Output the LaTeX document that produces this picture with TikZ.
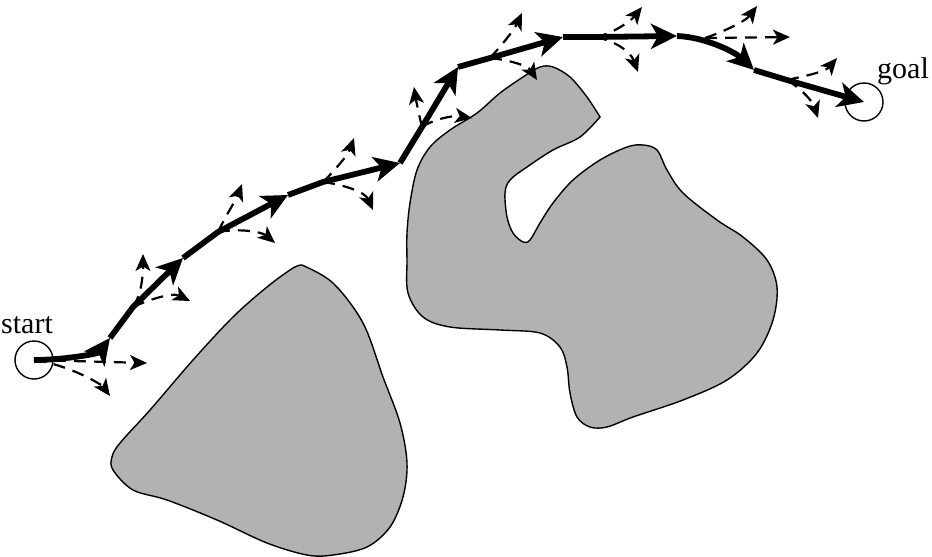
\documentclass[tikz,border=0pt]{standalone}
\usepackage{fontspec}
\setmainfont{Liberation Serif}
\usetikzlibrary{arrows.meta}
\definecolor{obstgray}{gray}{0.70}
\tikzset{
  obstacle/.style={fill=obstgray, draw=black, line width=1.4pt},
  pathseg/.style={line width=5.8pt, line join=round, -{Stealth[length=26pt,width=25pt,inset=7pt]}},
  branch/.style={line width=2.2pt, dash pattern=on 12pt off 8pt, -{Stealth[length=17pt,width=15pt,inset=4.5pt]}},
  endcircle/.style={circle, draw, line width=1.4pt, minimum size=38pt, inner sep=0pt},
  lbl/.style={font=\fontsize{30}{36}\selectfont, inner sep=0pt, anchor=base west},
}
\begin{document}
\begin{tikzpicture}[x=1pt, y=-1pt]
\useasboundingbox (0,0) rectangle (932,557);

% obstacles
\draw[obstacle] plot[smooth, tension=0.55] coordinates {
 (302,265) (333,283) (363,323) (383,377) (400,423) (407,463) (403,497) (390,527)
 (367,547) (333,555) (307,555) (267,543) (217,520) (167,500) (133,490) (113,470)
 (112,457) (120,443) (150,410) (193,360) (233,317) (267,287) (293,268) (302,265)} -- cycle;
\draw[obstacle] plot[smooth, tension=0.55] coordinates {
 (600,117) (587,97) (570,77) (553,67) (540,67) (523,77) (500,93) (477,113) (450,130)
 (430,147) (417,170) (410,203) (407,233) (407,260) (408,293) (423,317) (450,327)
 (500,330) (540,333) (560,347) (567,367) (570,393) (577,417) (590,427) (607,427)
 (633,417) (683,400) (727,380) (757,353) (773,320) (777,287) (767,260) (743,237)
 (717,220) (683,193) (667,170) (657,150) (643,145) (627,147) (600,160) (573,180)
 (553,203) (540,223) (530,240) (523,242) (513,233) (507,217) (505,193) (510,180)
 (527,167) (553,150) (580,137) (600,117)} -- cycle;

% start / goal
\node[endcircle] (start) at (34,360) {};
\node[endcircle] (goal) at (864,102) {};
\node[lbl] (startlbl) at (1,333) {start};
\node[lbl] (goallbl) at (877,78) {goal};

% waypoints
\coordinate (A1) at (110,338);
\coordinate (F1) at (133,307);
\coordinate (A2) at (183,258);
\coordinate (F2) at (218,232);
\coordinate (A3) at (288,195);
\coordinate (F3) at (323,182);
\coordinate (A4) at (400,163);
\coordinate (F4) at (422,127);
\coordinate (A5) at (458,67);
\coordinate (F5) at (490,58);
\coordinate (A6) at (563,37);
\coordinate (F6) at (595,37);
\coordinate (A7) at (677,36);
\coordinate (F7) at (705,38);
\coordinate (A8) at (754,70);
\coordinate (F8) at (787,80);

% branch ends
\coordinate (b0a) at (147,363);
\coordinate (b0b) at (110,396);
\coordinate (b1a) at (143,254);
\coordinate (b1b) at (190,301);
\coordinate (b2a) at (242,184);
\coordinate (b2b) at (275,243);
\coordinate (b3a) at (354,138);
\coordinate (b3b) at (373,210);
\coordinate (b4a) at (414,87);
\coordinate (b4b) at (472,118);
\coordinate (b5a) at (522,13);
\coordinate (b5b) at (537,80);
\coordinate (b6a) at (642,7);
\coordinate (b6b) at (638,72);
\coordinate (b7a) at (757,6);
\coordinate (b7b) at (790,37);
\coordinate (b8a) at (837,58);
\coordinate (b8b) at (818,118);

% dashed branches
\draw[branch] (start.center) -- (b0a);
\draw[branch] (start.center) .. controls (70,365) and (102,385) .. (b0b);
\draw[branch] (F1) .. controls (141,295) and (143,278) .. (b1a);
\draw[branch] (F1) .. controls (148,300) and (172,292) .. (b1b);
\draw[branch] (F2) .. controls (226,215) and (236,200) .. (b2a);
\draw[branch] (F2) .. controls (240,228) and (262,232) .. (b2b);
\draw[branch] (F3) .. controls (335,170) and (348,155) .. (b3a);
\draw[branch] (F3) .. controls (345,185) and (365,192) .. (b3b);
\draw[branch] (F4) .. controls (419,115) and (416,100) .. (b4a);
\draw[branch] (F4) .. controls (432,120) and (452,115) .. (b4b);
\draw[branch] (F5) .. controls (502,45) and (514,30) .. (b5a);
\draw[branch] (F5) .. controls (510,60) and (528,66) .. (b5b);
\draw[branch] (F6) .. controls (610,35) and (630,22) .. (b6a);
\draw[branch] (F6) .. controls (612,40) and (630,50) .. (b6b);
\draw[branch] (F7) .. controls (720,33) and (745,22) .. (b7a);
\draw[branch] (F7) -- (b7b);
\draw[branch] (F8) .. controls (805,76) and (825,72) .. (b8a);
\draw[branch] (F8) .. controls (800,88) and (812,100) .. (b8b);

% chosen path
\draw[pathseg] (start.center) .. controls (62,360) and (98,354) .. (A1);
\draw[pathseg] (A1) -- (F1) -- (A2);
\draw[pathseg] (A2) -- (F2) -- (A3);
\draw[pathseg] (A3) -- (F3) -- (A4);
\draw[pathseg] (A4) -- (F4) -- (A5);
\draw[pathseg] (A5) -- (F5) -- (A6);
\draw[pathseg] (A6) -- (F6) -- (A7);
\draw[pathseg] (A7) .. controls (705,37) and (735,52) .. (A8);
\draw[pathseg] (A8) -- (F8) -- (goal.center);
\end{tikzpicture}
\end{document}
